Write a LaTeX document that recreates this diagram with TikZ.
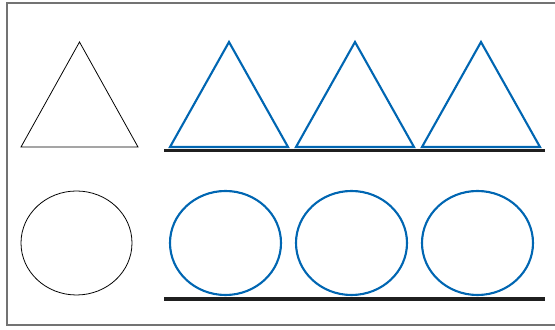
\documentclass[tikz,border=0pt]{standalone}
\usetikzlibrary{arrows.meta}
\definecolor{modra}{RGB}{0,102,178}

\begin{document}
\begin{tikzpicture}[x=0.02cm, y=-0.02cm]
        \useasboundingbox (0,0) rectangle (555,330);

        % ramecek
        \draw[gray!90!black, line width=0.6pt] (556,3) -- (7,3) -- (7,325) -- (556,325);

        % vzor
        \draw[line width=0.45pt] (21,147) coordinate (A) -- (79.5,42) coordinate (C)
        -- (138,147) coordinate (B) -- cycle;
        \draw[line width=0.45pt] (76.5,243) coordinate (S) ellipse [x radius=55.5, y radius=52];

        % kopie
        \foreach \i in {0,1,2} {
            \draw[modra, line width=1.2pt, line join=miter]
                (170+126*\i,147) -- (229+126*\i,42) -- (288+126*\i,147) -- cycle;
            \draw[modra, line width=1.2pt]
                (225.5+126*\i,243) ellipse [x radius=55.5, y radius=52];
        }

        % podlozky
        \draw[black!88, line width=2.1pt] (164,150.5) -- (545,150.5);
        \draw[black!88, line width=2.1pt] (164,299) -- (545,299);
    \end{tikzpicture}
\end{document}
